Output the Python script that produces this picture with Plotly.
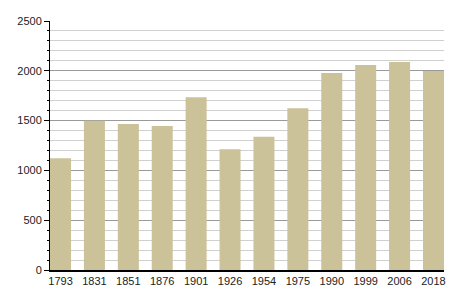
import plotly.graph_objects as go

years = ["1793", "1831", "1851", "1876", "1901", "1926", "1954", "1975", "1990", "1999", "2006", "2018"]
population = [1122, 1498, 1467, 1445, 1735, 1212, 1338, 1625, 1978, 2058, 2088, 1997]

fig = go.Figure(go.Bar(
    x=years, y=population,
    marker=dict(color="#ccc29a", line=dict(width=0)),
    width=0.62,
))

fig.update_layout(
    width=455, height=300,
    margin=dict(l=50, r=9, t=21, b=30),
    plot_bgcolor="white", paper_bgcolor="white",
    font=dict(family="Liberation Sans, Arial, sans-serif", size=11, color="#222"),
    showlegend=False,
    bargap=0.38,
)
fig.update_xaxes(
    type="category", range=[-0.31, 11.31],
    showline=True, linecolor="black", linewidth=1.5,
    ticks="", showgrid=False, tickfont=dict(size=11),
)
fig.update_yaxes(
    range=[0, 2500], dtick=500, tick0=0,
    showline=True, linecolor="black", linewidth=1,
    ticks="outside", ticklen=5, tickcolor="black", tickwidth=1,
    showgrid=True, gridcolor="#9a9a9a", gridwidth=1,
    zeroline=False,
    minor=dict(dtick=100, ticks="outside", ticklen=2, tickcolor="black",
               showgrid=True, gridcolor="#d0d0d0", gridwidth=1),
    tickfont=dict(size=11),
)

fig.write_html("out.html")
